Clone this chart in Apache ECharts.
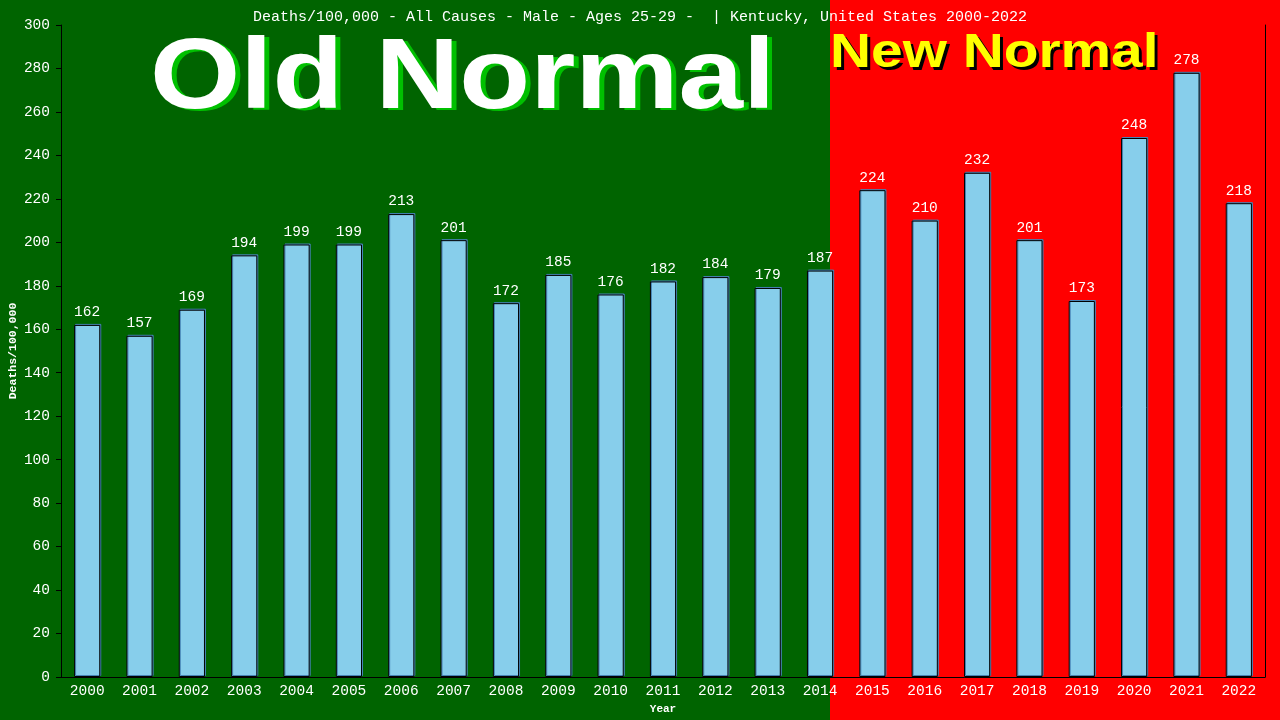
<!DOCTYPE html>
<html><head><meta charset="utf-8">
<script src="https://cdn.jsdelivr.net/npm/echarts@6/dist/echarts.min.js"></script>
<style>html,body{margin:0;padding:0;background:#006400}#c{width:1280px;height:720px}</style>
</head><body><div id="c"></div>
<script>
const years = ['2000','2001','2002','2003','2004','2005','2006','2007','2008','2009','2010','2011','2012','2013','2014','2015','2016','2017','2018','2019','2020','2021','2022'];
const deaths = [162,157,169,194,199,199,213,201,172,185,176,182,184,179,187,224,210,232,201,173,248,278,218];
const titleText = 'Deaths/100,000 - All Causes - Male - Ages 25-29 -  | Kentucky, United States 2000-2022';
const mono = '"Liberation Mono", "DejaVu Sans Mono", monospace';
const bigFont = 'bold 100px "Liberation Sans", Arial, sans-serif';
const midFont = 'bold 49px "Liberation Sans", Arial, sans-serif';
const chart = echarts.init(document.getElementById('c'));
chart.setOption({
  backgroundColor: '#006400',
  animation: false,
  title: {text: titleText, left: 'center', top: 5, textStyle: {color: '#fff', fontFamily: mono, fontSize: 15, fontWeight: 'normal'}},
  graphic: [
    {type: 'rect', z: -10, shape: {x: 830, y: 0, width: 450, height: 720}, style: {fill: '#ff0000'}},
    {type: 'text', z: -5, x: 155, y: 32, scaleX: 1.16, style: {x: 0, y: 0, text: 'Old Normal', fill: '#00c000', font: bigFont, textVerticalAlign: 'top'}},
    {type: 'text', z: -4, x: 150, y: 30, scaleX: 1.16, style: {x: 0, y: 0, text: 'Old Normal', fill: '#ffffff', font: bigFont, textVerticalAlign: 'top'}},
    {type: 'text', z: -5, x: 833, y: 32, scaleX: 1.16, style: {x: 0, y: 0, text: 'New Normal', fill: '#000000', font: midFont, textVerticalAlign: 'top'}},
    {type: 'text', z: -4, x: 830, y: 29, scaleX: 1.16, style: {x: 0, y: 0, text: 'New Normal', fill: '#ffff00', font: midFont, textVerticalAlign: 'top'}}
  ],
  grid: {left: 61, right: 15, top: 25, bottom: 43, outerBoundsMode: 'none', containLabel: false},
  xAxis: {
    type: 'category', data: years,
    name: 'Year', nameLocation: 'middle', nameGap: 27, nameMoveOverlap: false,
    nameTextStyle: {color: '#fff', fontFamily: mono, fontSize: 11, fontWeight: 'bold'},
    axisLine: {lineStyle: {color: '#000', width: 1}},
    axisTick: {show: false},
    axisLabel: {color: '#fff', fontFamily: mono, fontSize: 14.5, margin: 7}
  },
  yAxis: [{
    type: 'value', min: 0, max: 300, interval: 20,
    name: 'Deaths/100,000', nameLocation: 'middle', nameGap: 42, nameMoveOverlap: false,
    nameTextStyle: {color: '#fff', fontFamily: mono, fontSize: 11.5, fontWeight: 'bold'},
    axisLine: {show: true, lineStyle: {color: '#000'}},
    axisTick: {show: true, length: 5, lineStyle: {color: '#000'}},
    splitLine: {show: false},
    axisLabel: {color: '#fff', fontFamily: mono, fontSize: 14.5, margin: 11}
  }, {
    type: 'value', min: 0, max: 300, interval: 20, position: 'right',
    axisLine: {show: true, lineStyle: {color: '#000'}},
    axisTick: {show: false}, axisLabel: {show: false}, splitLine: {show: false}
  }],
  series: [{
    type: 'bar', data: deaths, barWidth: '50%',
    itemStyle: {color: '#87ceeb', borderColor: '#000', borderWidth: 1, shadowColor: '#4682b4', shadowOffsetX: 1, shadowOffsetY: -1, shadowBlur: 0},
    label: {show: true, position: 'top', color: '#fff', fontFamily: mono, fontSize: 14.5, distance: 5}
  }]
});
</script></body></html>
